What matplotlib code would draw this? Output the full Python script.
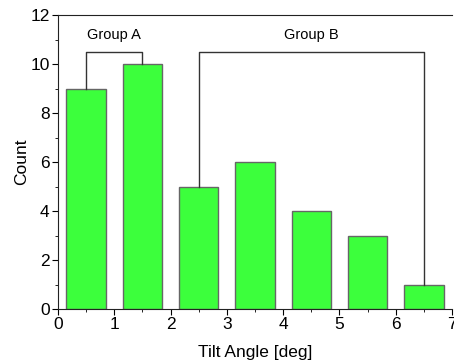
import matplotlib.pyplot as plt
from matplotlib.ticker import MultipleLocator

# data
centers = [0.5, 1.5, 2.5, 3.5, 4.5, 5.5, 6.5]
counts = [9, 10, 5, 6, 4, 3, 1]
group_a = (0, 1)      # bar indices joined by the bracket
group_b = (2, 6)
bracket_y = 10.5

plt.rcParams['font.family'] = ['Liberation Sans', 'DejaVu Sans']

fig = plt.figure(figsize=(4.54, 3.63), dpi=100)
ax = fig.add_axes([58 / 454, 54 / 363, 394 / 454, 294 / 363])

ax.bar(centers, counts, width=0.7, color='#3cff3c', edgecolor='#666666', linewidth=1)

# brackets
for (i, j), label in [(group_a, 'Group A'), (group_b, 'Group B')]:
    xs = [centers[i], centers[i], centers[j], centers[j]]
    ys = [counts[i], bracket_y, bracket_y, counts[j]]
    ax.plot(xs, ys, color='#333333', linewidth=1)
    ax.text((centers[i] + centers[j]) / 2, 11.2, label, ha='center', va='center', fontsize=10.5)

ax.set_xlim(0, 7)
ax.set_ylim(0, 12)
ax.xaxis.set_major_locator(MultipleLocator(1))
ax.xaxis.set_minor_locator(MultipleLocator(0.5))
ax.yaxis.set_major_locator(MultipleLocator(2))
ax.yaxis.set_minor_locator(MultipleLocator(1))
ax.tick_params(which='both', direction='out', labelsize=12.5, pad=2)
ax.tick_params(which='major', length=4)
ax.tick_params(which='minor', length=2)
ax.spines['right'].set_visible(False)
for s in ax.spines.values():
    s.set_color('#222222')

ax.set_xlabel('Tilt Angle [deg]', fontsize=12.5, labelpad=9)
ax.set_ylabel('Count', fontsize=12.5, labelpad=1)

fig.savefig('out.png', dpi=100)
